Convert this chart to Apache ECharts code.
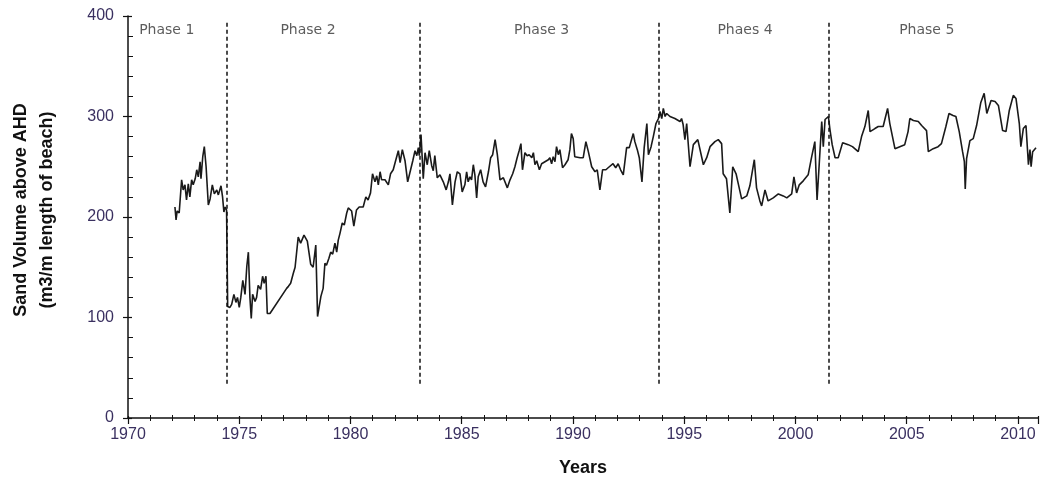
<!DOCTYPE html>
<html>
<head>
<meta charset="utf-8">
<script src="https://cdn.jsdelivr.net/npm/echarts@6/dist/echarts.min.js"></script>
<style>
html,body{margin:0;padding:0;background:#fff;}
#chart{width:1040px;height:483px;}
</style>
</head>
<body>
<div id="chart"></div>
<script>
// ---- data ----
const years = [
1972.11,1972.16,1972.21,1972.30,1972.41,1972.48,1972.56,1972.63,1972.71,1972.78,1972.86,1972.93,
1973.02,1973.09,1973.16,1973.24,1973.28,1973.36,1973.43,1973.51,1973.61,1973.69,1973.79,1973.88,1973.99,
1974.06,1974.18,1974.25,1974.31,1974.37,1974.43,1974.48,1974.58,1974.66,1974.76,1974.85,1974.92,1975.00,
1975.07,1975.16,1975.26,1975.34,1975.41,1975.48,1975.54,1975.60,1975.71,1975.78,1975.85,1975.96,
1976.05,1976.12,1976.20,1976.26,1976.38,1977.13,1977.21,1977.31,1977.43,1977.51,1977.65,1977.76,1977.91,
1978.06,1978.21,1978.32,1978.44,1978.52,1978.67,1978.77,1978.85,1978.92,1979.03,
1979.11,1979.20,1979.30,1979.38,1979.45,1979.53,1979.63,1979.72,1979.83,1979.90,
1980.05,1980.15,1980.27,1980.39,1980.57,1980.69,1980.79,1980.90,1980.99,
1981.10,1981.18,1981.25,1981.33,1981.40,1981.55,1981.70,1981.80,1981.92,1982.04,
1982.15,1982.23,1982.33,1982.45,1982.57,1982.68,1982.80,1982.90,1982.98,1983.05,
1983.09,1983.17,1983.27,1983.35,1983.45,1983.54,1983.65,1983.72,1983.79,1983.90,1984.02,
1984.17,1984.30,1984.40,1984.47,1984.58,1984.70,1984.80,1984.92,1985.02,
1985.14,1985.22,1985.29,1985.37,1985.44,1985.52,1985.59,1985.67,1985.74,1985.85,1985.96,1986.07,
1986.20,1986.30,1986.39,1986.50,1986.60,1986.72,1986.87,1987.05,
1987.17,1987.29,1987.39,1987.49,1987.58,1987.66,1987.73,1987.84,1987.94,1988.03,
1988.15,1988.22,1988.29,1988.37,1988.49,1988.59,1988.74,1988.89,1988.96,1989.04,
1989.11,1989.19,1989.26,1989.34,1989.41,1989.53,1989.64,1989.78,1989.86,1989.93,1990.01,1990.08,
1990.32,1990.46,1990.58,1990.69,1990.84,1990.99,1991.09,
1991.21,1991.33,1991.48,1991.58,1991.66,1991.80,1991.92,1992.03,
1992.14,1992.26,1992.41,1992.53,1992.71,1992.78,1992.89,1992.98,1993.10,
1993.20,1993.32,1993.39,1993.51,1993.61,1993.73,1993.84,1993.91,1993.99,1994.06,
1994.14,1994.21,1994.36,1994.58,1994.81,1994.88,1994.95,1995.03,1995.11,
1995.26,1995.41,1995.61,1995.86,1996.01,
1996.16,1996.38,1996.53,1996.68,1996.75,1996.90,1997.05,
1997.18,1997.33,1997.43,1997.58,1997.81,1997.95,
1998.15,1998.25,1998.40,1998.48,1998.63,1998.77,1999.00,
1999.23,1999.45,1999.61,1999.83,1999.93,2000.05,
2000.17,2000.35,2000.57,2000.72,2000.87,2000.97,2001.06,
2001.18,2001.25,2001.33,2001.40,2001.48,2001.55,2001.65,2001.78,2001.92,2002.12,
2002.37,2002.56,2002.82,2002.97,2003.12,
2003.27,2003.35,2003.57,2003.72,2003.94,2004.14,
2004.24,2004.47,2004.69,2004.91,2005.06,2005.14,
2005.30,2005.52,2005.67,2005.89,2005.97,
2006.19,2006.41,2006.56,2006.76,2006.90,2007.08,
2007.21,2007.36,2007.51,2007.59,2007.63,2007.69,2007.84,2007.99,2008.14,
2008.33,2008.48,2008.60,2008.79,2008.97,2009.12,
2009.31,2009.46,2009.61,2009.79,2009.91,2010.06,2010.13,
2010.24,2010.36,2010.47,2010.54,2010.59,2010.66,2010.81
];
const volume = [
210,197,206,204,237,227,232,217,233,220,237,232,
238,247,240,255,238,260,270,250,212,218,232,223,227,
222,231,220,205,210,207,111,110,113,123,115,120,110,
120,137,123,151,165,120,99,123,116,120,132,128,
141,134,141,104,104,129,131,134,144,150,180,174,182,
176,153,150,172,101,121,129,154,152,159,
165,163,174,165,177,184,194,192,204,209,
206,191,207,210,210,220,217,224,243,
235,241,232,245,237,237,232,243,247,257,
266,254,267,256,235,245,256,266,261,269,
261,282,238,264,252,266,251,246,261,239,242,
235,227,235,243,212,235,245,243,225,
232,245,235,240,237,252,242,219,240,247,235,230,
245,259,262,277,262,237,239,229,
237,243,250,259,266,273,247,264,261,262,
259,264,252,256,247,253,255,257,259,253,
260,255,270,262,267,249,252,257,267,283,278,260,
259,259,275,265,250,245,247,
227,247,247,249,250,253,249,253,
247,242,269,269,283,275,267,259,235,
269,293,262,270,280,293,298,305,298,308,
300,303,300,298,295,298,292,277,293,
250,272,277,252,259,
270,275,277,273,243,238,204,
250,243,233,218,221,231,
257,229,216,211,227,216,219,
223,221,219,223,240,224,
232,236,242,259,275,217,250,
295,270,297,298,300,287,272,259,259,274,
272,270,265,280,290,
306,285,288,290,290,308,
293,268,270,272,285,298,
296,295,291,286,265,
268,270,273,290,303,301,
300,285,265,255,228,258,276,278,291,
314,323,303,316,315,311,
286,285,306,321,318,293,270,
288,291,252,267,250,265,269
];
const phaseBounds = [1974.43, 1983.12, 1993.84, 2001.48];
const phaseLabelX = [1971.74, 1978.09, 1988.59, 1997.73, 2005.90];
const phaseLabels = ['Phase 1', 'Phase 2', 'Phase 3', 'Phaes 4', 'Phase 5'];
const yTicks = [0, 100, 200, 300, 400];
const xTicks = [1970, 1975, 1980, 1985, 1990, 1995, 2000, 2005, 2010];

const seriesData = years.map((y, i) => [y, volume[i]]);
const labelData = phaseLabelX.map((x, i) => [x, 386, phaseLabels[i]]);

const chart = echarts.init(document.getElementById('chart'), null, {renderer: 'canvas'});
const axisCol = '#111';
const labelCol = '#3a3060';
const option = {
  animation: false,
  backgroundColor: '#fff',
  grid: {left: 128, right: 2, top: 16, bottom: 65, containLabel: false, outerBoundsMode: 'none'},
  xAxis: [{
    type: 'value', min: 1970, max: 2010.9, interval: 5,
    name: 'Years', nameLocation: 'middle', nameGap: 41,
    nameTextStyle: {fontFamily: 'Liberation Sans', fontWeight: 'bold', fontSize: 18, color: '#111'},
    axisLine: {show: true, onZero: false, lineStyle: {color: axisCol, width: 1.5}},
    axisTick: {show: true, length: 6, lineStyle: {color: axisCol, width: 1.2}},
    minorTick: {show: true, splitNumber: 5, length: 3, lineStyle: {color: axisCol, width: 1}},
    splitLine: {show: false},
    axisLabel: {
      margin: 9, fontFamily: 'Liberation Sans', fontSize: 16, color: labelCol,
      formatter: v => (xTicks.indexOf(v) >= 0 ? String(v) : '')
    }
  }, {
    type: 'value', min: 1970, max: 2010.9, interval: 5, position: 'bottom',
    axisLine: {show: false},
    axisTick: {show: true, inside: true, length: 2, lineStyle: {color: axisCol, width: 1.2}},
    minorTick: {show: true, splitNumber: 5, length: 3, lineStyle: {color: axisCol, width: 1}},
    splitLine: {show: false}, axisLabel: {show: false}
  }],
  yAxis: [{
    type: 'value', min: 0, max: 400, interval: 100,
    name: 'Sand Volume above AHD\n(m3/m length of beach)',
    nameLocation: 'middle', nameRotate: 90, nameGap: 68,
    nameTextStyle: {fontFamily: 'Liberation Sans', fontWeight: 'bold', fontSize: 18, color: '#111',
      lineHeight: 26, align: 'center', padding: [0, 0, 0, 14]},
    axisLine: {show: true, onZero: false, lineStyle: {color: axisCol, width: 1.5}},
    axisTick: {show: true, length: 5, lineStyle: {color: axisCol, width: 1.2}},
    minorTick: {show: false},
    splitLine: {show: false},
    axisLabel: {
      margin: 14, fontFamily: 'Liberation Sans', fontSize: 16, color: labelCol,
      formatter: v => (yTicks.indexOf(v) >= 0 ? String(v) : '')
    }
  }, {
    type: 'value', min: 0, max: 400, interval: 100, position: 'left',
    axisLine: {show: false},
    axisTick: {show: true, inside: true, length: 4, lineStyle: {color: axisCol, width: 1.2}},
    minorTick: {show: true, splitNumber: 5, length: 5, lineStyle: {color: axisCol, width: 1}},
    splitLine: {show: false}, axisLabel: {show: false}
  }],
  series: [{
    type: 'line',
    data: seriesData,
    showSymbol: false,
    symbol: 'none',
    lineStyle: {color: '#1a1a1a', width: 1.6},
    z: 3,
    markLine: {
      silent: true,
      symbol: ['none', 'none'],
      label: {show: false},
      lineStyle: {color: '#111', type: [4, 3], width: 1.5},
      data: phaseBounds.map(b => [{coord: [b, 34]}, {coord: [b, 394]}])
    }
  }, {
    type: 'scatter',
    data: labelData,
    symbolSize: 0,
    silent: true,
    label: {
      show: true, position: 'inside',
      formatter: p => p.value[2],
      fontFamily: 'DejaVu Sans', fontSize: 14, color: '#333'
    }
  }]
};
chart.setOption(option);
</script>
</body>
</html>
